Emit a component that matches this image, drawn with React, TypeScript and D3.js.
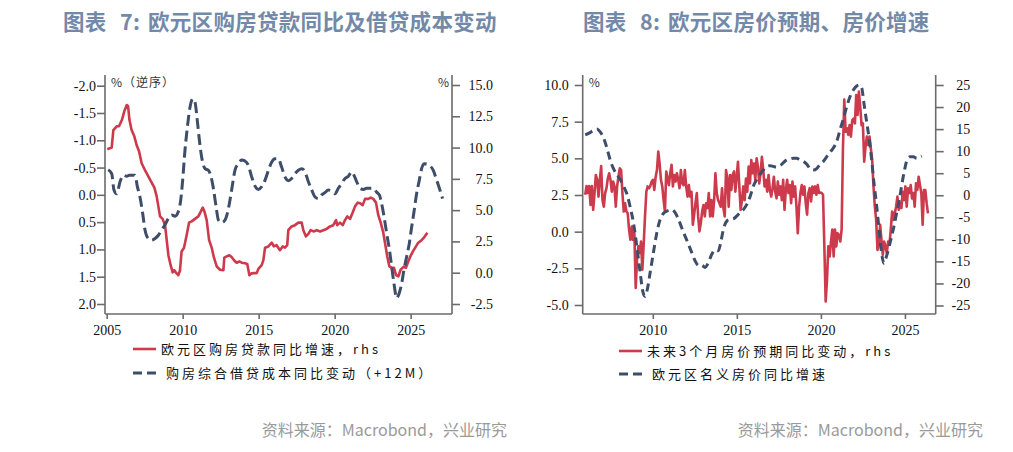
import React, { useEffect, useRef } from "react";
import * as d3 from "d3";

// ---- 图表7: 购房贷款同比 (rhs) & 购房综合借贷成本同比变动 (lhs, 逆序, +12M) ----
const loanYears = [
  2005.04, 2005.33, 2005.44, 2005.66, 2005.81, 2006.0, 2006.16, 2006.32, 2006.41, 2006.5,
  2006.64, 2006.82, 2006.97, 2007.13, 2007.3, 2007.52, 2007.74, 2007.96, 2008.14, 2008.29,
  2008.4, 2008.51, 2008.68, 2008.84, 2008.95, 2009.06, 2009.21, 2009.34, 2009.45, 2009.56,
  2009.71, 2009.82, 2009.93, 2010.09, 2010.26, 2010.42, 2010.59, 2010.81, 2011.03, 2011.2,
  2011.32, 2011.43, 2011.58, 2011.74, 2011.91, 2012.06, 2012.24, 2012.46, 2012.68, 2012.74,
  2012.9, 2013.07, 2013.22, 2013.38, 2013.55, 2013.73, 2013.88, 2014.1, 2014.25, 2014.39,
  2014.54, 2014.71, 2014.87, 2014.98, 2015.2, 2015.31, 2015.42, 2015.64, 2015.86, 2016.0,
  2016.18, 2016.4, 2016.58, 2016.73, 2016.88, 2016.95, 2017.17, 2017.39, 2017.61, 2017.83,
  2017.94, 2018.11, 2018.27, 2018.42, 2018.6, 2018.82, 2019.04, 2019.25, 2019.47, 2019.69,
  2019.91, 2020.09, 2020.17, 2020.35, 2020.53, 2020.68, 2020.83, 2021.01, 2021.18, 2021.34,
  2021.51, 2021.67, 2021.84, 2022.0, 2022.21, 2022.37, 2022.54, 2022.72, 2022.87, 2023.03,
  2023.2, 2023.31, 2023.46, 2023.6, 2023.75, 2023.9, 2024.04, 2024.19, 2024.34, 2024.51,
  2024.69, 2024.84, 2024.98, 2025.15, 2025.3, 2025.5, 2025.72, 2025.87, 2026.1,
];
const loanYoy = [
  9.87, 10.0, 11.4, 11.7, 11.7, 12.2, 12.9, 13.4, 13.3, 12.2,
  11.4, 10.9, 10.2, 9.7, 8.75, 8.2, 7.7, 7.2, 6.8, 6.1,
  5.3, 4.5, 4.3, 3.8, 2.6, 1.4, 0.6, 0.03, 0.2, 0.0,
  -0.2, 0.15, 1.7, 2.0, 3.0, 4.0, 4.1, 4.3, 4.5, 4.9,
  5.2, 4.9, 4.2, 2.6, 2.0, 1.2, 0.5, 0.24, 0.2, 1.2,
  1.3, 1.4, 1.25, 1.0, 0.8, 0.9, 0.8, 0.75, 0.7, -0.2,
  -0.05, -0.03, -0.03, 0.3, 0.6, 1.0, 2.0, 2.1, 2.4, 2.1,
  2.2, 1.8, 2.1, 2.0, 2.2, 3.4, 3.7, 3.8, 4.0, 4.0,
  3.4, 2.9, 3.1, 3.4, 3.3, 3.4, 3.3, 3.4, 3.5, 3.7,
  3.8, 4.2, 3.8, 4.0, 3.8, 4.2, 4.5, 4.3, 4.8, 5.3,
  5.6, 5.55, 5.4, 5.9, 5.9, 6.0, 5.9, 5.6, 4.6, 4.0,
  3.2, 2.4, 1.3, 0.5, 0.4, 0.4, -0.2, -0.3, 0.24, 0.45,
  0.4, 0.9, 1.3, 1.7, 2.0, 2.4, 2.6, 2.8, 3.2,
];
const costYears = [
  2005.1, 2005.33, 2005.48, 2005.66, 2005.88, 2006.1, 2006.32, 2006.49, 2006.64, 2006.86,
  2007.02, 2007.19, 2007.37, 2007.52, 2007.74, 2007.96, 2008.18, 2008.4, 2008.62, 2008.84,
  2009.06, 2009.28, 2009.5, 2009.71, 2009.87, 2010.0, 2010.15, 2010.31, 2010.48, 2010.66,
  2010.81, 2010.96, 2011.1, 2011.25, 2011.47, 2011.69, 2011.84, 2012.02, 2012.2, 2012.35,
  2012.57, 2012.79, 2012.94, 2013.11, 2013.29, 2013.44, 2013.66, 2013.88, 2014.1, 2014.32,
  2014.54, 2014.76, 2014.98, 2015.2, 2015.42, 2015.64, 2015.86, 2016.07, 2016.29, 2016.51,
  2016.73, 2016.95, 2017.17, 2017.39, 2017.61, 2017.83, 2018.05, 2018.27, 2018.49, 2018.71,
  2018.93, 2019.15, 2019.36, 2019.58, 2019.8, 2020.02, 2020.24, 2020.46, 2020.68, 2020.9,
  2021.12, 2021.27, 2021.45, 2021.67, 2021.89, 2022.11, 2022.32, 2022.54, 2022.76, 2022.94,
  2023.09, 2023.25, 2023.42, 2023.6, 2023.75, 2023.9, 2024.08, 2024.25, 2024.41, 2024.56,
  2024.74, 2024.91, 2025.07, 2025.22, 2025.39, 2025.57, 2025.72, 2025.88, 2026.1, 2026.32,
  2026.49, 2026.71, 2026.89, 2027.1,
];
const costChange = [
  -0.46, -0.39, -0.09, -0.02, -0.24, -0.36, -0.34, -0.36, -0.36, -0.36,
  -0.15, 0.04, 0.34, 0.64, 0.8, 0.83, 0.8, 0.74, 0.64, 0.55,
  0.43, 0.37, 0.39, 0.31, 0.1, -0.27, -0.81, -1.24, -1.6, -1.76,
  -1.7, -1.37, -1.0, -0.69, -0.48, -0.45, -0.36, -0.12, 0.22, 0.46,
  0.51, 0.46, 0.34, 0.1, -0.21, -0.45, -0.57, -0.64, -0.62, -0.54,
  -0.33, -0.16, -0.1, -0.15, -0.27, -0.45, -0.6, -0.66, -0.66, -0.51,
  -0.33, -0.26, -0.3, -0.39, -0.45, -0.48, -0.42, -0.24, -0.09, 0.04,
  0.07, 0.0, -0.04, -0.09, -0.07, -0.02, -0.12, -0.21, -0.3, -0.34,
  -0.42, -0.36, -0.24, -0.12, -0.1, -0.12, -0.12, -0.12, -0.05, 0.0,
  0.16, 0.4, 0.7, 1.0, 1.31, 1.62, 1.89, 1.8, 1.62, 1.37,
  1.13, 0.89, 0.58, 0.31, -0.02, -0.27, -0.48, -0.57, -0.56, -0.52,
  -0.45, -0.27, -0.12, 0.07,
];

// ---- 图表8: 未来3个月房价预期 (rhs, 月度) & 名义房价同比 (lhs) ----
const expFirst = 2005.98;
const expLast = 2026.37;
const priceExp = [
  0.1, 2.1, 0.5, 2.1, -2.2, 2.1, -3.3, 0.5, 4.6, 3.5, -0.3, 3.5, 6.6, -1.1, -2.6, 0.5,
  1.6, 3.8, 5.0, 3.5, 0.8, 3.1, 2.0, -2.6, 2.0, 4.2, 6.1, 5.7, 0.5, -3.7, -1.8, -3.7,
  -4.1, -7.8, -10.1, -7.1, -10.1, -8.6, -21.0, -14.6, -11.6, -13.1, -10.5, -16.9, -11.2, -4.8,
  0.8, 2.0, 1.6, 2.1, 3.1, 3.5, 1.2, 4.1, 5.7, 9.9, 7.2, 3.5, 2.0, -1.1, -3.7, 5.4,
  3.8, 2.3, 5.0, 6.9, 2.0, 4.6, 3.1, 5.0, 3.5, 1.6, 5.7, 2.7, 2.3, 5.7, 2.0, -0.3,
  2.3, -0.3, 0.8, -6.7, -4.4, -1.8, 0.5, -4.8, -8.2, -6.3, -3.7, -2.2, -4.8, -1.8, -2.9, 0.5,
  -4.8, -1.1, -4.8, -1.4, 5.0, 0.5, -1.1, -1.8, -2.6, 1.6, -2.9, -4.8, 5.7, 3.8, -2.6, 4.6,
  1.2, 4.6, 5.4, 0.8, 4.2, 7.6, 2.0, -3.3, -1.1, 2.0, -1.1, 3.8, 0.8, 6.5, 2.7, 8.0,
  5.0, 7.2, 3.5, 8.4, 6.5, 2.7, 5.0, 8.7, 5.7, 2.0, 3.5, 0.8, 4.6, 1.2, -0.3, 1.6,
  4.2, 0.8, -0.7, 3.1, 0.1, 2.0, -1.1, 3.5, -3.3, 1.2, 3.5, 0.5, 2.3, -1.8, 3.1, -0.3,
  2.0, -2.6, -8.6, -2.6, 0.5, 2.3, 0.1, 2.0, -1.8, -4.4, 0.5, 1.6, -1.4, 2.0, 0.5, 2.0,
  0.1, 2.3, 0.5, 0.6, 0.5, 0.1, -11.6, -24.1, -19.2, -11.6, -13.9, -10.5, -7.8, -13.9, -7.8, -11.6,
  -8.6, -9.0, -10.5, -7.8, 10.6, 21.7, 14.4, 15.2, 13.7, 15.9, 13.3, 17.0, 17.4, 16.3, 22.7, 18.2,
  23.5, 20.1, 15.9, 16.3, 7.6, 11.0, 13.3, 11.4, 13.3, 10.6, 8.0, 2.0, -2.6, -5.6, -12.4, -11.2,
  -6.7, -10.1, -13.5, -10.5, -11.6, -13.1, -10.5, -11.2, -7.8, -3.7, -5.6, -4.1, -2.6, -0.3, -3.3, -1.8,
  -2.9, 0.8, -1.1, 2.0, -2.6, 1.6, 0.5, 2.3, -0.7, 0.5, -2.6, 2.7, 1.2, 4.2, 2.3, 0.5,
  -6.7, 1.2, 1.2, -1.8, -4.1,
];
const hpiYears = [
  2005.98, 2006.18, 2006.47, 2006.67, 2006.87, 2007.07, 2007.27, 2007.46, 2007.66, 2007.86,
  2008.06, 2008.26, 2008.45, 2008.65, 2008.85, 2009.05, 2009.25, 2009.41, 2009.54, 2009.68,
  2009.84, 2010.04, 2010.24, 2010.44, 2010.63, 2010.83, 2011.13, 2011.33, 2011.53, 2011.72,
  2011.92, 2012.12, 2012.32, 2012.52, 2012.72, 2012.91, 2013.11, 2013.31, 2013.51, 2013.71,
  2013.9, 2014.06, 2014.2, 2014.4, 2014.6, 2014.8, 2014.99, 2015.19, 2015.39, 2015.59,
  2015.79, 2015.98, 2016.18, 2016.38, 2016.58, 2016.78, 2016.98, 2017.17, 2017.37, 2017.57,
  2017.77, 2017.97, 2018.16, 2018.36, 2018.56, 2018.76, 2018.96, 2019.16, 2019.35, 2019.55,
  2019.75, 2019.95, 2020.15, 2020.34, 2020.54, 2020.74, 2020.94, 2021.14, 2021.34, 2021.53,
  2021.73, 2021.93, 2022.13, 2022.29, 2022.43, 2022.56, 2022.72, 2022.88, 2023.02, 2023.16,
  2023.32, 2023.48, 2023.61, 2023.75, 2023.91, 2024.07, 2024.21, 2024.35, 2024.51, 2024.67,
  2024.8, 2024.94, 2025.1, 2025.3, 2025.5, 2025.7, 2025.89, 2026.0,
];
const hpiYoy = [
  6.6, 6.7, 6.9, 7.0, 6.8, 6.4, 5.7, 4.9, 4.3, 3.9,
  3.55, 3.1, 2.6, 1.7, 0.6, -1.0, -2.8, -4.1, -4.4, -3.9,
  -2.8, -1.4, -0.07, 0.84, 1.24, 1.4, 1.5, 1.3, 0.84, 0.27,
  -0.3, -0.86, -1.43, -2.0, -2.3, -2.3, -2.44, -2.1, -1.54, -1.24,
  -1.3, -0.63, 0.16, 0.72, 0.84, 0.88, 1.06, 1.3, 1.5, 1.86,
  2.4, 3.1, 3.55, 3.9, 4.2, 4.45, 4.5, 4.45, 4.4, 4.5,
  4.7, 4.9, 4.95, 5.0, 5.0, 4.9, 4.8, 4.6, 4.3, 4.2,
  4.3, 4.6, 4.8, 5.1, 5.4, 5.7, 6.15, 6.95, 7.7, 8.5,
  9.2, 9.66, 9.93, 10.0, 9.8, 8.76, 7.5, 6.27, 4.9, 3.3,
  1.74, -0.07, -1.43, -2.15, -1.65, -0.97, -0.3, 0.38, 1.3, 2.2,
  3.1, 4.0, 4.8, 5.1, 5.1, 5.0, 5.1, 5.15,
];

// tick labels
const loanLeftTicks = [-2, -1.5, -1, -0.5, 0, 0.5, 1, 1.5, 2];
const loanRightTicks = [15, 12.5, 10, 7.5, 5, 2.5, 0, -2.5];
const loanYearTicks = [2005, 2010, 2015, 2020, 2025];
const priceLeftTicks = [10, 7.5, 5, 2.5, 0, -2.5, -5];
const priceRightTicks = [25, 20, 15, 10, 5, 0, -5, -10, -15, -20, -25];
const priceYearTicks = [2010, 2015, 2020, 2025];

const RED = "#CC3A4C";
const NAVY = "#3E4D69";
const AXIS = "#6b6b6b";
const TITLE = "#7389A8";
const CJK = "'Noto Sans CJK SC', 'Noto Sans', sans-serif";
const SERIF = "'Liberation Serif', 'DejaVu Serif', serif";

const fmt1 = (d: number) => d.toFixed(1);
const fmt0 = (d: number) => String(d);

function styleAxis(g: any) {
  g.select(".domain").remove();
  g.attr("color", AXIS).attr("font-family", SERIF).attr("font-size", 14);
  g.selectAll("line").attr("stroke-width", 1.6);
  g.selectAll("text").attr("fill", "#111");
}

function drawPanel(svg: any, p: any) {
  const { left, right, top, bottom, x, yL, yR } = p;

  // frame: left, right, bottom
  const frame = svg.append("g").attr("stroke", AXIS).attr("stroke-width", 1.6);
  frame.append("line").attr("x1", left).attr("x2", left).attr("y1", top).attr("y2", bottom);
  frame.append("line").attr("x1", right).attr("x2", right).attr("y1", top).attr("y2", bottom);
  frame.append("line").attr("x1", left).attr("x2", right).attr("y1", bottom).attr("y2", bottom);

  svg.append("g")
    .attr("transform", `translate(${left},0)`)
    .call(d3.axisLeft(yL).tickValues(p.leftTicks).tickFormat(p.leftFmt).tickSize(8).tickPadding(p.leftPad))
    .call(styleAxis);

  svg.append("g")
    .attr("transform", `translate(${right},0)`)
    .call(d3.axisRight(yR).tickValues(p.rightTicks).tickFormat(p.rightFmt).tickSize(8))
    .call(styleAxis)
    .call((g: any) => g.selectAll("text").attr("text-anchor", "end").attr("x", p.rightLabelX));

  svg.append("g")
    .attr("transform", `translate(0,${bottom})`)
    .call(d3.axisBottom(x).tickValues(p.yearTicks).tickFormat(d3.format("d")).tickSize(5).tickPadding(6))
    .call(styleAxis);

  // solid series
  const solid = d3.line<[number, number]>()
    .x((d) => x(d[0]))
    .y((d) => p.solidAxis(d[1]));
  svg.append("path")
    .datum(p.solid)
    .attr("fill", "none")
    .attr("stroke", RED)
    .attr("stroke-width", 2.6)
    .attr("stroke-linejoin", "round")
    .attr("d", solid);

  // dashed series
  const dashed = d3.line<[number, number]>()
    .x((d) => x(d[0]))
    .y((d) => p.dashAxis(d[1]))
    .curve(d3.curveMonotoneX);
  svg.append("path")
    .datum(p.dashed)
    .attr("fill", "none")
    .attr("stroke", NAVY)
    .attr("stroke-width", 3)
    .attr("stroke-dasharray", p.dash)
    .attr("d", dashed);

  // unit labels
  svg.append("text")
    .attr("x", left + 6).attr("y", top + 12)
    .attr("font-family", CJK).attr("font-size", 12).attr("fill", "#333")
    .attr("letter-spacing", 1)
    .text(p.unitLeft);
  if (p.unitRightX != null) {
    svg.append("text")
      .attr("x", p.unitRightX).attr("y", top + 12)
      .attr("font-family", CJK).attr("font-size", 12).attr("fill", "#333")
      .text("%");
  }

  // legend
  const lg = svg.append("g").attr("font-family", CJK).attr("font-size", 13).attr("fill", "#111").attr("letter-spacing", 3);
  lg.append("line")
    .attr("x1", p.legX).attr("x2", p.legX + 23).attr("y1", p.legY[0]).attr("y2", p.legY[0])
    .attr("stroke", RED).attr("stroke-width", 2.6);
  lg.append("text").attr("x", p.legX + 28).attr("y", p.legY[0] + 4.5).text(p.legText[0]);
  lg.append("line")
    .attr("x1", p.legX).attr("x2", p.legX + 26).attr("y1", p.legY[1]).attr("y2", p.legY[1])
    .attr("stroke", NAVY).attr("stroke-width", 3).attr("stroke-dasharray", "9,5");
  lg.append("text").attr("x", p.legX + 33).attr("y", p.legY[1] + 4.5).text(p.legText[1]);

  // title: "图表", number, caption
  const t = svg.append("text")
    .attr("y", 30)
    .attr("font-family", CJK).attr("font-size", 21.5).attr("font-weight", 700).attr("fill", TITLE)
    .attr("letter-spacing", 0.3);
  t.append("tspan").attr("x", p.titleX).text("图表");
  t.append("tspan").attr("x", p.titleX + 57).text(p.titleNo);
  t.append("tspan").attr("x", p.titleX + 85).text(p.title);

  svg.append("text")
    .attr("x", p.sourceX).attr("y", 436).attr("text-anchor", "end")
    .attr("font-family", CJK).attr("font-size", 16).attr("fill", "#9a9a9a")
    .text("资料来源：Macrobond，兴业研究");
}

export default function App() {
  const ref = useRef<SVGSVGElement>(null);

  useEffect(() => {
    const svg = d3.select(ref.current);
    svg.selectAll("*").remove();

    // left panel
    drawPanel(svg, {
      left: 105, right: 452, top: 75, bottom: 314,
      x: d3.scaleLinear().domain([2004.89, 2027.72]).range([105, 452]),
      yL: d3.scaleLinear().domain([-2, 2]).range([85.7, 304]),
      yR: d3.scaleLinear().domain([15, -2.5]).range([85, 304]),
      leftTicks: loanLeftTicks, leftFmt: fmt1, leftPad: 1,
      rightTicks: loanRightTicks, rightFmt: fmt1, rightLabelX: 41,
      yearTicks: loanYearTicks,
      solid: d3.zip(loanYears, loanYoy),
      dashed: d3.zip(costYears, costChange),
      solidAxis: d3.scaleLinear().domain([15, -2.5]).range([85, 304]),
      dashAxis: d3.scaleLinear().domain([-2, 2]).range([85.7, 304]),
      dash: "11,5",
      unitLeft: "%（逆序）", unitRightX: 438,
      legX: 133, legY: [349, 373],
      legText: ["欧元区购房贷款同比增速，rhs", "购房综合借贷成本同比变动（+12M）"],
      titleNo: "7:", title: "欧元区购房贷款同比及借贷成本变动", titleX: 63,
      sourceX: 507,
    });

    // right panel
    const expDate = d3.scaleLinear().domain([0, priceExp.length - 1]).range([expFirst, expLast]);
    drawPanel(svg, {
      left: 582.7, right: 935.7, top: 75, bottom: 314,
      x: d3.scaleLinear().domain([2005.83, 2026.83]).range([582.7, 935.7]),
      yL: d3.scaleLinear().domain([10, -5]).range([85, 305]),
      yR: d3.scaleLinear().domain([25, -25]).range([85, 305.5]),
      leftTicks: priceLeftTicks, leftFmt: fmt1, leftPad: 6,
      rightTicks: priceRightTicks, rightFmt: fmt0, rightLabelX: 34.5,
      yearTicks: priceYearTicks,
      solid: priceExp.map((v, i) => [expDate(i), v]),
      dashed: d3.zip(hpiYears, hpiYoy),
      solidAxis: d3.scaleLinear().domain([25, -25]).range([85, 305.5]),
      dashAxis: d3.scaleLinear().domain([10, -5]).range([85, 305]),
      dash: "8,5",
      unitLeft: "%", unitRightX: null,
      legX: 619, legY: [351, 374],
      legText: ["未来3个月房价预期同比变动，rhs", "欧元区名义房价同比增速"],
      titleNo: "8:", title: "欧元区房价预期、房价增速", titleX: 583,
      sourceX: 983,
    });
  }, []);

  return (
    <div style={{ position: "absolute", left: 0, top: 0 }}>
      <svg ref={ref} width={1013} height={452} style={{ display: "block", background: "#fff" }} />
    </div>
  );
}
